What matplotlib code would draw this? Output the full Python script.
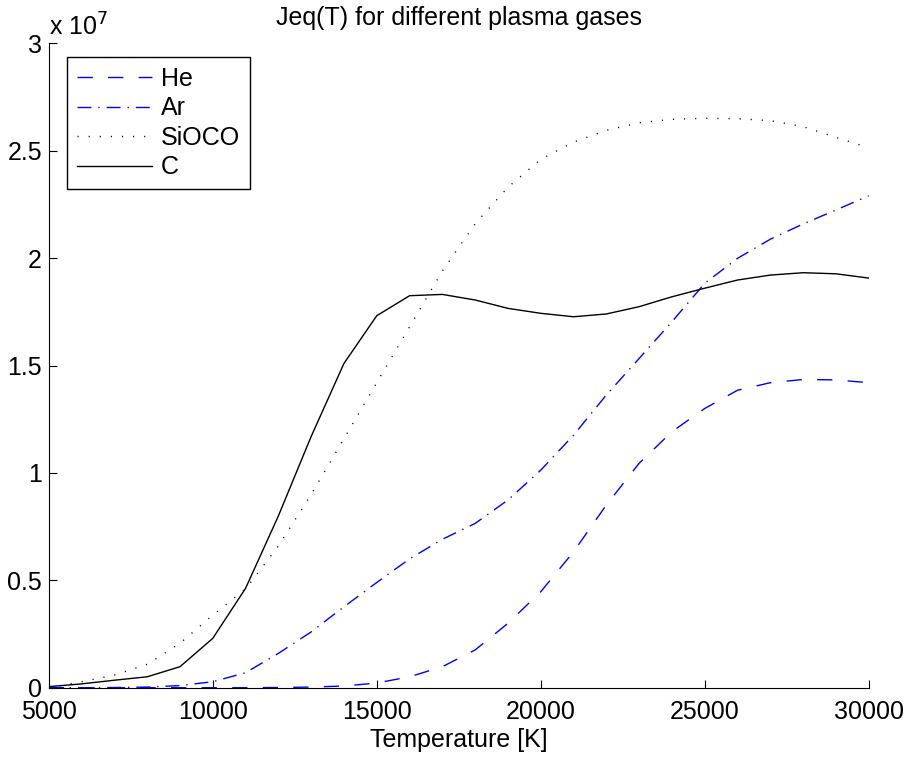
import numpy as np
import matplotlib
matplotlib.use('Agg')
import matplotlib.pyplot as plt

# temperatures [K] and Jeq values (in units of 1e7)
T = np.arange(5000, 31000, 1000)

he = [0.0, 0.0, 0.0, 0.0, 0.0, 0.0, 0.0, 0.001, 0.003, 0.008, 0.022,
      0.051, 0.098, 0.176, 0.30, 0.447, 0.633, 0.851, 1.045, 1.192,
      1.30, 1.385, 1.42, 1.435, 1.433, 1.42]

ar = [0.0, 0.0, 0.001, 0.003, 0.01, 0.028, 0.07, 0.16, 0.26, 0.377,
      0.49, 0.60, 0.691, 0.765, 0.874, 1.013, 1.176, 1.363, 1.533,
      1.704, 1.883, 1.999, 2.088, 2.159, 2.224, 2.29]

sioco = [0.0, 0.028, 0.059, 0.109, 0.207, 0.338, 0.46, 0.66, 0.90,
         1.16, 1.42, 1.68, 1.94, 2.16, 2.33, 2.46, 2.54, 2.595, 2.63,
         2.646, 2.651, 2.649, 2.64, 2.612, 2.562, 2.514]

c = [0.005, 0.018, 0.035, 0.051, 0.098, 0.23, 0.463, 0.80, 1.17,
     1.51, 1.732, 1.825, 1.831, 1.805, 1.766, 1.743, 1.727, 1.74,
     1.774, 1.82, 1.86, 1.898, 1.921, 1.932, 1.927, 1.907]

labels = ['He', 'Ar', 'SiOCO', 'C']

plt.rcParams['font.family'] = ['Liberation Sans', 'DejaVu Sans']
plt.rcParams['font.size'] = 18
plt.rcParams['lines.scale_dashes'] = False

fig = plt.figure(figsize=(9.16, 7.57), dpi=100)
ax = fig.add_axes([0.0533, 0.0915, 0.8951, 0.8513])

ax.plot(T, he, color='blue', lw=1.0, dashes=(11, 11), label=labels[0])
ax.plot(T, ar, color='blue', lw=1.0, dashes=(10, 5, 1, 5), label=labels[1])
ax.plot(T, sioco, color='black', lw=1.0, dashes=(0.8, 7.2), label=labels[2])
ax.plot(T, c, color='black', lw=1.0, label=labels[3])

ax.set_xlim(5000, 30000)
ax.set_ylim(0, 3)
ax.set_xticks(np.arange(5000, 30001, 5000))
ax.set_yticks(np.arange(0, 3.01, 0.5))
ax.set_yticklabels(['0', '0.5', '1', '1.5', '2', '2.5', '3'])

ax.spines['top'].set_visible(False)
ax.spines['right'].set_visible(False)
ax.tick_params(direction='in', length=6, width=0.8, labelsize=18)
ax.tick_params(axis='x', pad=9)
ax.tick_params(axis='y', pad=5)

ax.text(0.0, 1.004, r'x 10$^{7}$', transform=ax.transAxes, fontsize=18,
        ha='left', va='bottom')

ax.set_title('Jeq(T) for different plasma gases', fontsize=18, pad=13)
ax.set_xlabel('Temperature [K]', fontsize=18, labelpad=3)

leg = ax.legend(loc='upper left', bbox_to_anchor=(0.022, 0.979),
                borderaxespad=0, fancybox=False, framealpha=1,
                edgecolor='black', handlelength=3.0, handletextpad=0.35,
                labelspacing=0.22, borderpad=0.4, fontsize=18)
leg.get_frame().set_linewidth(1.0)

fig.savefig('out.png', dpi=100)
